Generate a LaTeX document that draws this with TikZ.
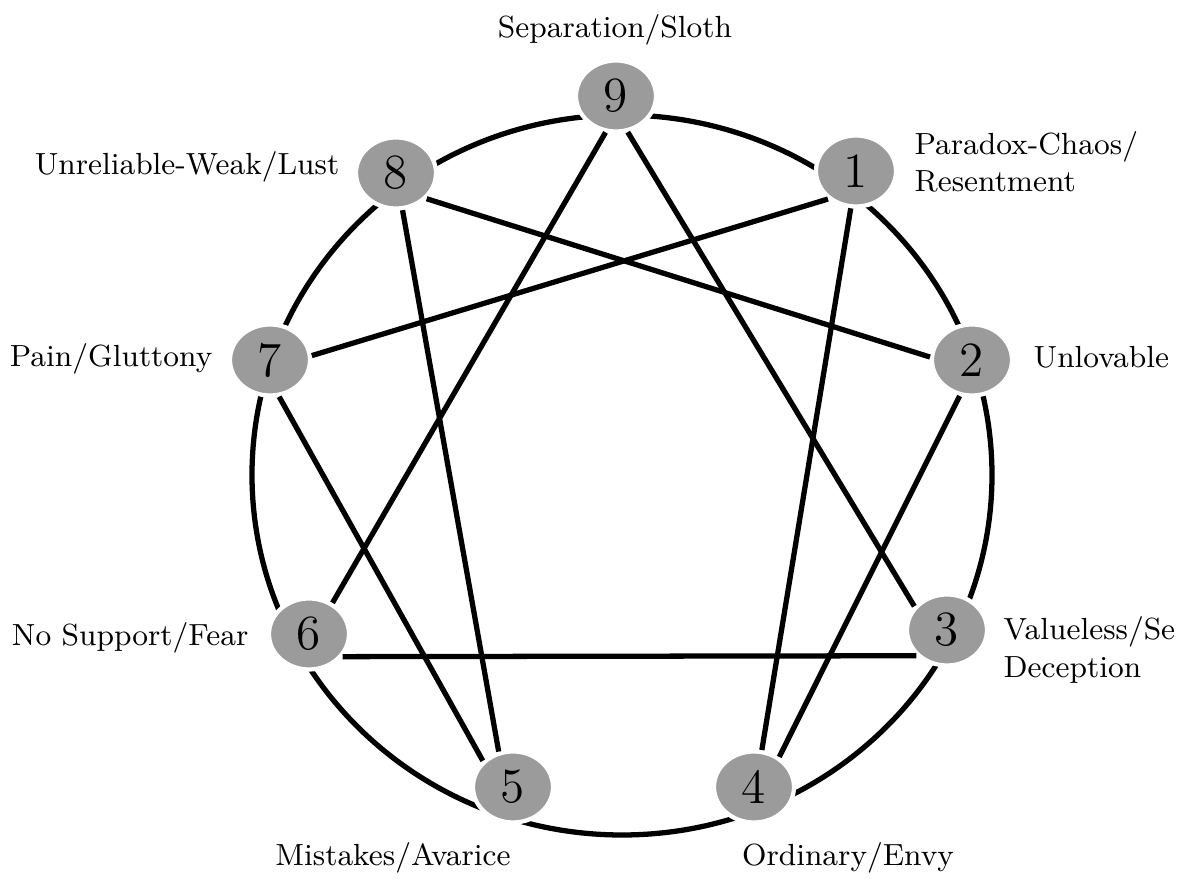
\documentclass[tikz,border=0pt]{standalone}
\usepackage{xcolor}
\usepackage{tikz}
\usetikzlibrary{positioning,shapes.geometric}
\definecolor{dotgray}{RGB}{155,155,155}

\begin{document}
\begin{tikzpicture}[x=1cm,y=1cm,
  typ/.style={ellipse,fill=dotgray,draw=white,line width=1.2pt,minimum width=0.80cm,minimum height=0.71cm,inner sep=0pt,font=\fontsize{14}{14}\selectfont},
  lbl/.style={font=\fontsize{8.7}{10.6}\selectfont,inner sep=0pt},
  wire/.style={line width=1.5pt}]
  \useasboundingbox (0,0) rectangle (11.85,8.80);

  % outer ring
  \draw[wire] (6.22,4.05) ellipse (3.70 and 3.60);

  \node[typ] (t9) at (6.16,7.84) {9};
  \node[typ] (t8) at (3.96,7.07) {8};
  \node[typ] (t1) at (8.56,7.09) {1};
  \node[typ] (t7) at (2.70,5.20) {7};
  \node[typ] (t2) at (9.72,5.20) {2};
  \node[typ] (t6) at (3.09,2.46) {6};
  \node[typ] (t3) at (9.47,2.50) {3};
  \node[typ] (t5) at (5.13,0.93) {5};
  \node[typ] (t4) at (7.54,0.93) {4};

  % triangle 9-3-6
  \draw[wire] (t9.-106) -- (t6.53);
  \draw[wire] (t9.-72) -- (t3.144);
  \draw[wire] (t6.-34) -- (t3.-140);
  % hexad 1-4-2-8-5-7-1
  \draw[wire] (t1.-98) -- (t4.78);
  \draw[wire] (t4.50) -- (t2.-109);
  \draw[wire] (t2.176) -- (t8.-40);
  \draw[wire] (t8.-80) -- (t5.112);
  \draw[wire] (t5.139) -- (t7.-76);
  \draw[wire] (t7.6) -- (t1.-135);

  \node[lbl] (l9) at (6.15,8.50) {Separation/Sloth};
  \node[lbl,anchor=east] (l8) at (3.40,7.13) {Unreliable-Weak/Lust};
  \node[lbl,anchor=west,align=left] (l1) at (9.14,7.18) {Paradox-Chaos/\\Resentment};
  \node[lbl,anchor=east] (l7) at (2.13,5.21) {Pain/Gluttony};
  \node[lbl,anchor=west] (l2) at (10.33,5.23) {Unlovable};
  \node[lbl,anchor=east] (l6) at (2.49,2.42) {No Support/Fear};
  \node[lbl,anchor=west,align=left] (l3) at (10.03,2.30) {Valueless/Se\\Deception};
  \node[lbl] (l5) at (3.93,0.22) {Mistakes/Avarice};
  \node[lbl] (l4) at (8.48,0.22) {Ordinary/Envy};
\end{tikzpicture}
\end{document}
